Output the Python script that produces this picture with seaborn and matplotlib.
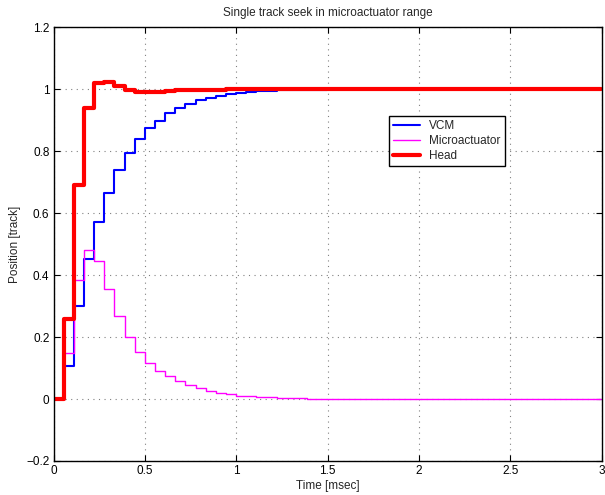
import numpy as np
import pandas as pd
import matplotlib
matplotlib.use("Agg")
import matplotlib.pyplot as plt
import seaborn as sns

# ---- data ----
sample_time = 0.0555  # msec per sample
vcm = [0, 0.108, 0.302, 0.453, 0.571, 0.665, 0.741, 0.796, 0.840, 0.875,
       0.899, 0.925, 0.940, 0.954, 0.964, 0.972, 0.979, 0.985, 0.989, 0.992,
       0.994, 0.996, 0.997, 0.998, 0.9985, 0.999, 0.9993, 0.9995, 0.9997, 0.9998,
       0.9999, 0.9999, 1.0, 1.0, 1.0, 1.0, 1.0, 1.0, 1.0, 1.0,
       1.0, 1.0, 1.0, 1.0, 1.0, 1.0, 1.0, 1.0, 1.0, 1.0,
       1.0, 1.0, 1.0, 1.0, 1.0]
micro = [0, 0.149, 0.384, 0.480, 0.445, 0.355, 0.267, 0.200, 0.152, 0.117,
         0.092, 0.073, 0.057, 0.045, 0.035, 0.027, 0.020, 0.015, 0.011, 0.0085,
         0.0065, 0.005, 0.0038, 0.0029, 0.0022, 0.0017, 0.0013, 0.001, 0.0008, 0.0006,
         0.0005, 0.0004, 0.0003, 0.0002, 0.0002, 0.0001, 0.0001, 0, 0, 0,
         0, 0, 0, 0, 0, 0, 0, 0, 0, 0,
         0, 0, 0, 0, 0]
head = [0, 0.26, 0.69, 0.94, 1.02, 1.025, 1.01, 0.997, 0.992, 0.992,
        0.991, 0.995, 0.997, 0.998, 0.999, 0.999, 0.999, 1.0, 1.0, 1.0,
        1.0, 1.0, 1.0, 1.0, 1.0, 1.0, 1.0, 1.0, 1.0, 1.0,
        1.0, 1.0, 1.0, 1.0, 1.0, 1.0, 1.0, 1.0, 1.0, 1.0,
        1.0, 1.0, 1.0, 1.0, 1.0, 1.0, 1.0, 1.0, 1.0, 1.0,
        1.0, 1.0, 1.0, 1.0, 1.0]
series_names = ["VCM", "Microactuator", "Head"]
x_ticks = [0, 0.5, 1, 1.5, 2, 2.5, 3]
x_ticklabels = ["0", "0.5", "1", "1.5", "2", "2.5", "3"]
y_ticks = [-0.2, 0, 0.2, 0.4, 0.6, 0.8, 1.0, 1.2]
y_ticklabels = ["\u22120.2", "0", "0.2", "0.4", "0.6", "0.8", "1", "1.2"]

time = np.arange(len(vcm)) * sample_time

sns.set_style("ticks")
plt.rcParams["font.family"] = ["Liberation Sans", "DejaVu Sans"]

fig = plt.figure(figsize=(6.05, 4.95), dpi=100)
ax = fig.add_axes([0.0886, 0.0687, 0.906, 0.876])

colors = ["#0000ff", "#ff00ff", "#ff0000"]
widths = [1.5, 1.0, 3.0]
for name, vals, c, w in zip(series_names, [vcm, micro, head], colors, widths):
    df = pd.DataFrame({"t": time, "y": vals})
    sns.lineplot(data=df, x="t", y="y", ax=ax, color=c, linewidth=w,
                 drawstyle="steps-post", label=name, estimator=None)

ax.set_xlim(0, 3)
ax.set_ylim(-0.2, 1.2)
ax.set_xticks(x_ticks)
ax.set_xticklabels(x_ticklabels)
ax.set_yticks(y_ticks)
ax.set_yticklabels(y_ticklabels)
ax.tick_params(direction="in", length=4, width=0.8, top=True, right=True,
               labelsize=8.5, pad=3, colors="black")
for s in ax.spines.values():
    s.set_color("black")
    s.set_linewidth(1.0)
ax.grid(True, linestyle=(0, (1, 4)), color="0.5", linewidth=0.8)
ax.set_axisbelow(True)

ax.set_title("Single track seek in microactuator range", fontsize=8.5, pad=8)
ax.set_xlabel("Time [msec]", fontsize=8.5, labelpad=2)
ax.set_ylabel("Position [track]", fontsize=8.5, labelpad=4)

leg = ax.legend(loc="upper left", bbox_to_anchor=(0.611, 0.796), fontsize=8.5,
                frameon=True, fancybox=False, edgecolor="black", framealpha=1,
                borderpad=0.35, handlelength=2.3, labelspacing=0.25,
                handletextpad=0.8, borderaxespad=0)
leg.get_frame().set_linewidth(1.0)

fig.savefig("out.png", dpi=100)
